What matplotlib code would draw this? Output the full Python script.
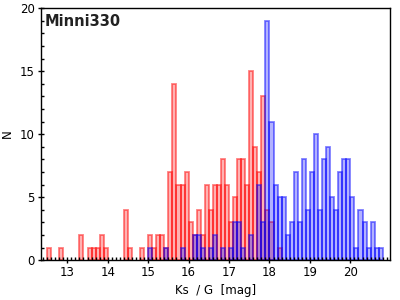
import numpy as np
import matplotlib
matplotlib.use("Agg")
import matplotlib.pyplot as plt
from matplotlib.ticker import MultipleLocator

# bin left edges (0.1 mag bins) and counts
ks_bins = [12.5, 12.8, 13.3, 13.5, 13.6, 13.7, 13.8, 13.9, 14.4, 14.5, 14.8,
           15.0, 15.1, 15.2, 15.3, 15.4, 15.5, 15.6, 15.7, 15.8, 15.9,
           16.0, 16.1, 16.2, 16.3, 16.4, 16.5, 16.6, 16.7, 16.8, 16.9,
           17.0, 17.1, 17.2, 17.3, 17.4, 17.5, 17.6, 17.7, 17.8, 17.9,
           18.0, 18.2]
ks_counts = [1, 1, 2, 1, 1, 1, 2, 1, 4, 1, 1,
             2, 1, 2, 2, 1, 7, 14, 6, 6, 7,
             3, 2, 4, 2, 6, 4, 6, 6, 8, 6,
             3, 5, 8, 8, 6, 15, 9, 7, 13, 4,
             3, 1]

g_bins = [15.0, 15.4, 15.8, 16.1, 16.2, 16.3, 16.5, 16.6, 16.8,
          17.0, 17.1, 17.2, 17.3, 17.5, 17.7, 17.8, 17.9,
          18.0, 18.1, 18.2, 18.3, 18.4, 18.5, 18.6, 18.7, 18.8, 18.9,
          19.0, 19.1, 19.2, 19.3, 19.4, 19.5, 19.6, 19.7, 19.8, 19.9,
          20.0, 20.1, 20.2, 20.3, 20.4, 20.5, 20.6, 20.7]
g_counts = [1, 1, 1, 2, 2, 1, 1, 2, 1,
            1, 3, 3, 1, 2, 6, 3, 19,
            11, 6, 5, 5, 2, 3, 7, 3, 8, 4,
            7, 10, 4, 8, 9, 5, 4, 7, 8, 8,
            5, 1, 4, 3, 1, 3, 1, 1]

bin_width = 0.1

fig = plt.figure(figsize=(4, 3), dpi=100)
ax = fig.add_axes([0.1025, 0.133, 0.8725, 0.84])

ax.bar(ks_bins, ks_counts, width=bin_width, align="edge",
       facecolor=(1, 0, 0, 0.3), edgecolor=(1, 0, 0, 0.5), linewidth=1.3)
ax.bar(g_bins, g_counts, width=bin_width, align="edge",
       facecolor=(0, 0, 1, 0.3), edgecolor=(0, 0, 1, 0.5), linewidth=1.3)

ax.set_xlim(12.35, 20.98)
ax.set_ylim(0, 20)
ax.xaxis.set_major_locator(MultipleLocator(1))
ax.xaxis.set_minor_locator(MultipleLocator(0.1))
ax.yaxis.set_major_locator(MultipleLocator(5))
ax.yaxis.set_minor_locator(MultipleLocator(1))
ax.tick_params(which="major", direction="inout", length=5, width=1,
               labelsize=8.5, pad=2)
ax.tick_params(which="minor", direction="in", length=2.5, width=1)
for s in ax.spines.values():
    s.set_linewidth(1)

ax.set_xlabel("Ks  / G  [mag]", fontsize=8.5, labelpad=3)
ax.set_ylabel("N", fontsize=8.5, labelpad=4)
ax.text(0.01, 0.975, "Minni330", transform=ax.transAxes, fontsize=10.5,
        fontweight="bold", color="#222222", va="top", ha="left")

fig.savefig("out.png", dpi=100)
